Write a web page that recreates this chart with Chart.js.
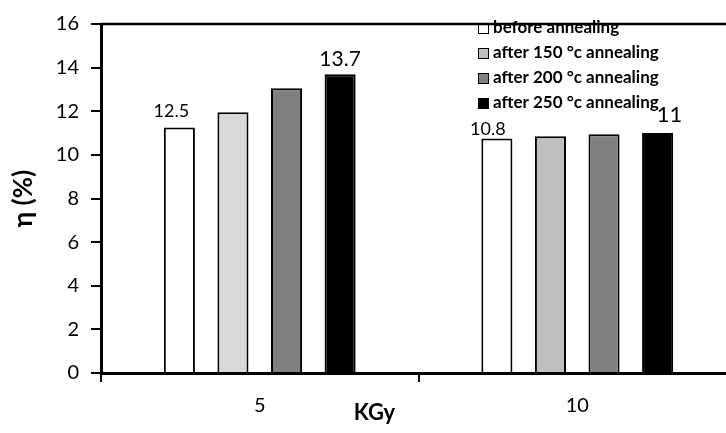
<!DOCTYPE html>
<html>
<head>
<meta charset="utf-8">
<script src="https://cdn.jsdelivr.net/npm/chart.js@4/dist/chart.umd.min.js"></script>
<style>
  html, body { margin: 0; padding: 0; background: #fff; overflow: hidden; }
  #wrap { width: 726px; height: 433px; overflow: hidden; }
</style>
</head>
<body>
<div id="wrap"><canvas id="chart" width="736" height="433"></canvas></div>
<script>
// dose categories (x axis)
const doses = ['5', '10'];

// efficiency values, one array per annealing step
const beforeAnnealing = [11.25, 10.75];
const after150 = [11.95, 10.85];
const after200 = [13.05, 10.95];
const after250 = [13.7, 11.0];

// text printed above some bars (as in the original figure)
const beforeLabels = ['12.5', '10.8'];
const after250Labels = ['13.7', '11'];

const seriesNames = ['before annealing', 'after 150 °c annealing', 'after 200 °c annealing', 'after 250 °c annealing'];

const yTicks = [0, 2, 4, 6, 8, 10, 12, 14, 16];

const FONT = 'Lato, "Open Sans", "DejaVu Sans", sans-serif';

// legend drawn in the top right corner of the plot
const legendPlugin = {
    id: 'cornerLegend',
    afterDraw(chart) {
        const ctx = chart.ctx;
        ctx.save();
        ctx.font = 'bold 17px ' + FONT;
        ctx.textBaseline = 'middle';
        ctx.textAlign = 'left';
        chart.data.datasets.forEach((ds, i) => {
            const y = 28 + i * 25;
            ctx.fillStyle = ds.legendColor;
            ctx.fillRect(478, y - 5, 11, 11);
            ctx.strokeStyle = '#000';
            ctx.lineWidth = 1;
            ctx.strokeRect(478.5, y - 4.5, 10, 10);
            ctx.fillStyle = '#000';
            ctx.fillText(ds.label, 493, y);
        });
        ctx.restore();
    }
};

// value labels above bars + top frame line + x axis title
const extrasPlugin = {
    id: 'extras',
    afterDraw(chart) {
        const ctx = chart.ctx;
        const area = chart.chartArea;
        ctx.save();
        // top frame line
        ctx.strokeStyle = '#000';
        ctx.lineWidth = 2.5;
        ctx.beginPath();
        ctx.moveTo(area.left, area.top);
        ctx.lineTo(area.right, area.top);
        ctx.stroke();

        // bar labels
        ctx.fillStyle = '#000';
        ctx.textAlign = 'center';
        ctx.textBaseline = 'middle';
        const specs = [
            { ds: 0, labels: beforeLabels, size: [18, 18], dx: [-8, -9], dy: [-16, -9] },
            { ds: 3, labels: after250Labels, size: [21, 22], dx: [0, 12], dy: [-15, -18] }
        ];
        specs.forEach(s => {
            const meta = chart.getDatasetMeta(s.ds);
            meta.data.forEach((bar, j) => {
                ctx.font = s.size[j] + 'px ' + FONT;
                ctx.fillText(s.labels[j], bar.x + s.dx[j], bar.y + s.dy[j]);
            });
        });

        // x axis title, set left of centre as in the source figure
        const xs = chart.scales.x;
        ctx.font = 'bold 22px ' + FONT;
        ctx.fillText('KGy', (xs.left + xs.right) / 2 - 44, 413);
        ctx.restore();
    }
};

const ctx = document.getElementById('chart').getContext('2d');
const barStyle = { borderColor: '#000', borderWidth: 2, categoryPercentage: 0.675, barPercentage: 0.58 };

const chart = new Chart(ctx, {
    type: 'bar',
    data: {
        labels: doses,
        datasets: [
            { label: seriesNames[0], data: beforeAnnealing, backgroundColor: '#ffffff', legendColor: '#ffffff', ...barStyle },
            { label: seriesNames[1], data: after150, backgroundColor: ['#d9d9d9', '#bfbfbf'], legendColor: '#bfbfbf', ...barStyle },
            { label: seriesNames[2], data: after200, backgroundColor: '#808080', legendColor: '#808080', ...barStyle },
            { label: seriesNames[3], data: after250, backgroundColor: '#000000', legendColor: '#000000', ...barStyle }
        ]
    },
    options: {
        responsive: false,
        animation: false,
        layout: { padding: { top: 15, right: 0, left: 0, bottom: 0 } },
        plugins: {
            legend: { display: false },
            tooltip: { enabled: false },
            title: { display: false }
        },
        scales: {
            x: {
                offset: true,
                grid: { offset: true, drawOnChartArea: false, color: '#000', lineWidth: 2, tickLength: 9 },
                border: { color: '#000', width: 3 },
                ticks: { color: '#000', font: { size: 20, family: FONT }, padding: 12 },
                afterFit(scale) { scale.height = 60; }
            },
            y: {
                min: 0,
                max: 16,
                afterBuildTicks(scale) { scale.ticks = yTicks.map(v => ({ value: v })); },
                grid: { drawOnChartArea: false, color: '#000', lineWidth: 2, tickLength: 10 },
                border: { color: '#000', width: 3 },
                ticks: { color: '#000', font: { size: 20, family: FONT }, padding: 12 },
                title: {
                    display: true,
                    text: 'η (%)',
                    color: '#000',
                    font: { size: 26, weight: 'bold', family: FONT },
                    padding: { top: 8, bottom: 0 }
                },
                afterFit(scale) { scale.width = 101; }
            }
        }
    },
    plugins: [legendPlugin, extrasPlugin]
});
</script>
</body>
</html>
